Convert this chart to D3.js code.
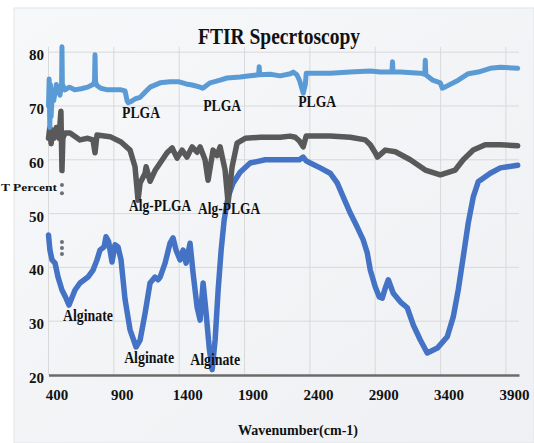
<!DOCTYPE html>
<html>
<head>
<meta charset="utf-8">
<script src="https://cdn.jsdelivr.net/npm/d3@7"></script>
<style>
  body { margin: 0; background: #fff; }
  text { font-family: "Liberation Serif", "Times New Roman", serif; font-weight: bold; fill: #111; }
</style>
</head>
<body>
<div id="chart"></div>
<script>
// FTIR spectra: [wavenumber, T percent]
var plga = [[400,70],[405,75],[410,66],[415,74],[420,68],[430,73],[440,71],[460,74],[488,72],[500,74],[503,81],[506,74],
  [526,73],[560,73.5],[600,73],[650,73.2],[700,73.5],[740,74],[752,74.5],[756,79.5],[760,74.5],[771,73.8],[800,73.3],
  [850,73],[900,73],[955,73],[986,72.8],[1001,71],[1009,70.6],[1030,70.8],[1062,71.3],[1101,71.6],[1140,72.6],[1177,73.5],
  [1254,74.3],[1330,74.5],[1400,74.5],[1453,74.1],[1499,73.9],[1560,73.5],[1580,73.3],[1598,73.6],[1637,74.3],[1713,74.8],
  [1766,75.2],[1866,75.4],[1943,75.6],[2008,75.8],[2012,77.3],[2016,75.8],[2096,75.9],[2173,75.6],[2250,76],[2272,76.3],
  [2300,75.8],[2320,74.8],[2349,72.4],[2365,74],[2372,76.1],[2450,76.1],[2555,76.1],[2709,76.3],[2862,76.5],[2939,76.3],
  [3028,76.3],[3032,78.2],[3036,76.3],[3092,76.3],[3245,76.1],[3279,75.9],[3283,78.5],[3287,75.8],[3340,74.8],[3398,74.3],
  [3413,73.3],[3440,73.6],[3535,74.8],[3612,76],[3688,76.3],[3780,77],[3857,77.2],[3990,77]];

var algPlga = [[400,64],[410,66],[420,63],[430,65.5],[440,64],[460,66],[480,64],[495,69],[503,58],[510,64],[526,65],
  [565,65],[641,63.7],[700,64],[740,63.7],[756,61.3],[771,64.6],[871,64.3],[955,63.3],[1024,61.8],[1062,58.7],[1085,52.5],
  [1101,55.7],[1139,57.5],[1147,58.7],[1177,56],[1215,58],[1254,59.4],[1307,61.3],[1346,62.2],[1384,60.3],[1422,61.8],
  [1460,60.5],[1499,62.4],[1537,61.4],[1560,62.4],[1598,60],[1621,56.2],[1659,61.8],[1690,60.8],[1713,62.4],[1751,58.1],
  [1774,52],[1805,58.7],[1843,63.1],[1905,64],[2020,64.2],[2173,64.2],[2249,64.4],[2288,64.2],[2320,63.5],[2349,62.4],
  [2372,64.4],[2555,64.4],[2709,64.2],[2824,63.7],[2862,62.8],[2900,61.3],[2916,60.5],[2977,61.8],[3054,61.5],[3168,60],
  [3283,58.1],[3398,57.2],[3512,58.1],[3573,60],[3650,61.8],[3742,62.8],[3857,62.8],[3990,62.6]];

var alginate = [[400,46],[411,43.2],[427,41.4],[450,40.8],[473,38.2],[503,35.8],[530,34.5],[557,33],[603,35.8],[641,37.1],
  [702,38.2],[741,39.5],[771,41.4],[794,43.2],[825,43.8],[840,45.7],[860,44.8],[871,43.2],[886,41],[909,44.2],[932,43.8],
  [955,41.4],[986,34],[1024,28.4],[1070,25.2],[1101,26.5],[1139,31.5],[1177,37.1],[1215,38.2],[1238,37.7],[1254,38.2],
  [1292,40.8],[1330,44.5],[1353,45.5],[1376,43.2],[1407,41.4],[1430,43.2],[1453,40.8],[1483,44.5],[1506,39],[1537,32.6],
  [1560,30.2],[1583,37.1],[1606,31.5],[1629,25.2],[1652,21],[1675,26.5],[1698,35.8],[1721,43.2],[1744,48.8],[1774,53.1],
  [1813,55.7],[1866,57.7],[1943,59.4],[2058,60],[2249,60],[2320,60],[2349,60.5],[2372,59.8],[2403,59.4],[2479,58.5],
  [2555,57.5],[2609,55.7],[2655,53.1],[2709,50.1],[2762,47.5],[2808,45.1],[2839,42.7],[2862,39.5],[2900,36.4],[2931,34.5],
  [2954,34.3],[2975,36],[3000,37.7],[3038,35.2],[3092,33.6],[3145,32.5],[3191,29.3],[3245,26.5],[3298,24.1],[3375,25],
  [3451,27.1],[3497,30.8],[3535,35.8],[3573,41.9],[3612,48.3],[3650,53.1],[3688,55.9],[3780,57.5],[3857,58.5],[3990,59]];

// loose points near the start
var strayDots = [[503,55.3],[503,53.8],[503,44.7],[503,43.6],[503,42.5]];

var xTicks = [400, 900, 1400, 1900, 2400, 2900, 3400, 3900];
var yTicks = [20, 30, 40, 50, 60, 70, 80];

var labelText = ["PLGA", "PLGA", "PLGA", "Alg-PLGA", "Alg-PLGA", "Alginate", "Alginate", "Alginate"];
var labelWn = [1108, 1729, 2456, 1254, 1782, 702, 1170, 1675];
var labelPct = [67.8, 69.1, 69.8, 50.4, 49.9, 30, 22.2, 21.9];

var width = 534, height = 443;

var svg = d3.select("#chart").append("svg")
  .attr("width", width)
  .attr("height", height);

// panel background
var grad = svg.append("defs").append("linearGradient")
  .attr("id", "bg").attr("x1", "0").attr("y1", "0").attr("x2", "1").attr("y2", "1");
grad.append("stop").attr("offset", "0%").attr("stop-color", "#f7f8fa");
grad.append("stop").attr("offset", "100%").attr("stop-color", "#eef0f3");

svg.append("rect")
  .attr("x", 14).attr("y", 8)
  .attr("width", width - 14).attr("height", height - 8)
  .attr("fill", "url(#bg)")
  .attr("stroke", "#e2e4e8");

var x = d3.scaleLinear().domain([400, 4000]).range([48.5, 519]);
var y = d3.scaleLinear().domain([20, 81]).range([375, 46.8]);

// gridlines
svg.append("g").selectAll("line")
  .data(xTicks)
  .join("line")
  .attr("x1", d => x(d)).attr("x2", d => x(d))
  .attr("y1", y(81)).attr("y2", y(20))
  .attr("stroke", "#d9d9d9");

svg.append("g").selectAll("line")
  .data(yTicks.slice(1))
  .join("line")
  .attr("x1", x(400)).attr("x2", x(4000))
  .attr("y1", d => y(d)).attr("y2", d => y(d))
  .attr("stroke", "#d9d9d9");

// x axis
var xAxis = svg.append("g")
  .attr("transform", "translate(0," + y(20) + ")")
  .call(d3.axisBottom(x).tickValues(xTicks).tickFormat(d3.format("d")).tickSize(0).tickPadding(14));
xAxis.select(".domain").attr("stroke", "#6b6b6b").attr("stroke-width", 2.5);
xAxis.selectAll("text")
  .attr("dx", 8)
  .style("font-size", "15px")
  .style("font-family", "'Liberation Serif', serif")
  .style("font-weight", "bold")
  .attr("fill", "#111");

// y axis
var yAxis = svg.append("g")
  .attr("transform", "translate(44,0)")
  .call(d3.axisLeft(y).tickValues(yTicks).tickFormat(d3.format("d")).tickSize(0).tickPadding(0));
yAxis.select(".domain").remove();
yAxis.selectAll("text")
  .attr("dy", "0.5em")
  .style("font-size", "15px")
  .style("font-family", "'Liberation Serif', serif")
  .style("font-weight", "bold")
  .attr("fill", "#111");

// spectra
var line = d3.line()
  .x(d => x(d[0]))
  .y(d => y(d[1]));

svg.append("path")
  .datum(alginate)
  .attr("d", line)
  .attr("fill", "none")
  .attr("stroke", "#4472c4")
  .attr("stroke-width", 5.5)
  .attr("stroke-linejoin", "round")
  .attr("stroke-linecap", "round");

svg.append("path")
  .datum(algPlga)
  .attr("d", line)
  .attr("fill", "none")
  .attr("stroke", "#595959")
  .attr("stroke-width", 5.5)
  .attr("stroke-linejoin", "round")
  .attr("stroke-linecap", "round");

svg.append("path")
  .datum(plga)
  .attr("d", line)
  .attr("fill", "none")
  .attr("stroke", "#5b9bd5")
  .attr("stroke-width", 5)
  .attr("stroke-linejoin", "round")
  .attr("stroke-linecap", "round");

svg.append("g").selectAll("circle")
  .data(strayDots)
  .join("circle")
  .attr("cx", d => x(d[0]))
  .attr("cy", d => y(d[1]))
  .attr("r", 2)
  .attr("fill", "#6a6f7a");

// peak labels
svg.append("g").selectAll("text")
  .data(labelText)
  .join("text")
  .attr("x", (d, i) => x(labelWn[i]))
  .attr("y", (d, i) => y(labelPct[i]))
  .attr("text-anchor", "middle")
  .attr("font-size", 16)
  .attr("textLength", d => d === "PLGA" ? 38 : d === "Alg-PLGA" ? 62 : 50)
  .attr("lengthAdjust", "spacingAndGlyphs")
  .text(d => d);

// titles
svg.append("text")
  .attr("x", 279).attr("y", 44)
  .attr("text-anchor", "middle")
  .attr("font-size", 23)
  .attr("textLength", 162)
  .attr("lengthAdjust", "spacingAndGlyphs")
  .text("FTIR Specrtoscopy");

svg.append("text")
  .attr("x", 298).attr("y", 435)
  .attr("text-anchor", "middle")
  .attr("font-size", 15)
  .attr("textLength", 120)
  .attr("lengthAdjust", "spacingAndGlyphs")
  .text("Wavenumber(cm-1)");

svg.append("text")
  .attr("x", 1).attr("y", 191)
  .attr("font-size", 11)
  .attr("textLength", 56)
  .attr("lengthAdjust", "spacingAndGlyphs")
  .text("T Percent");
</script>
</body>
</html>
